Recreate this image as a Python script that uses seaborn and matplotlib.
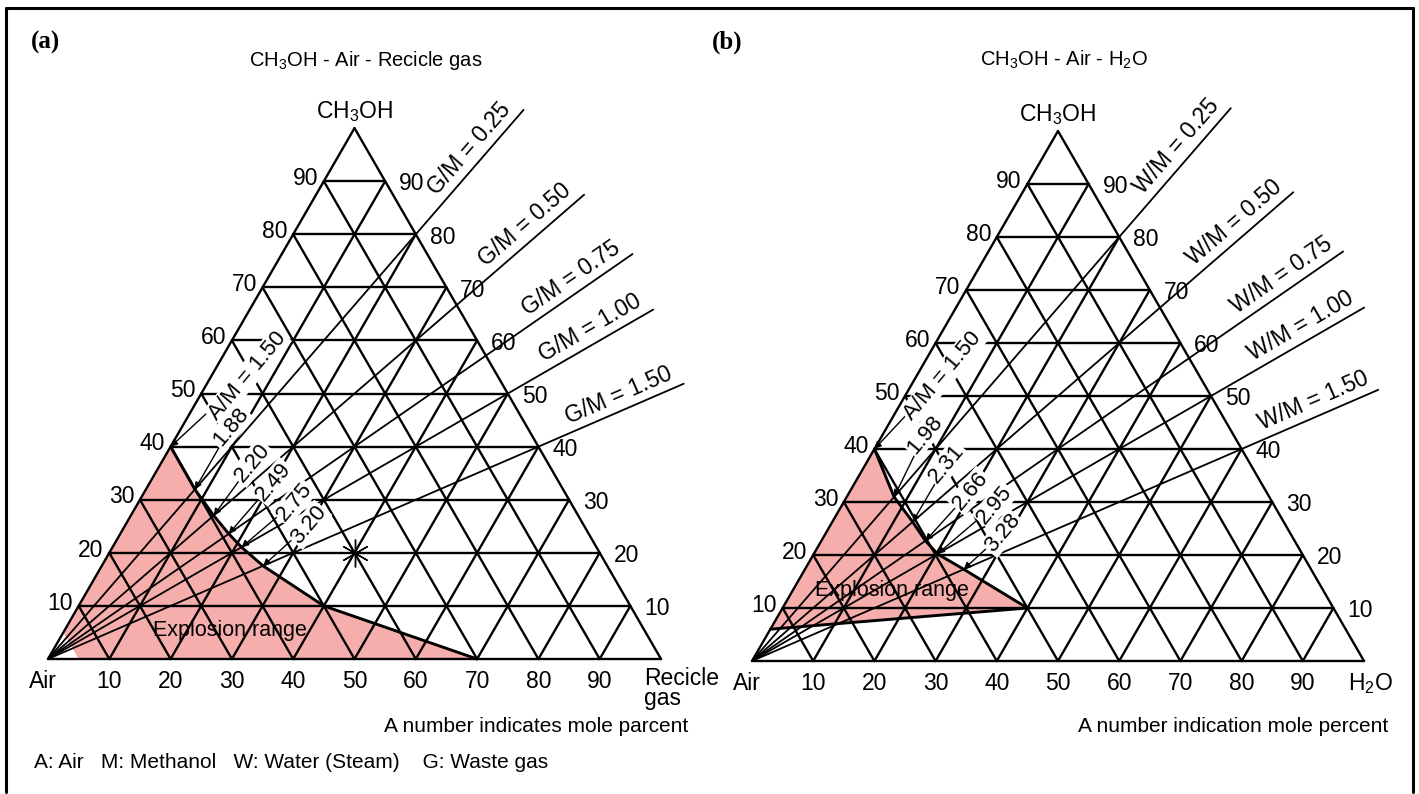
import numpy as np
import pandas as pd
import matplotlib
matplotlib.use("Agg")
import matplotlib.pyplot as plt
import seaborn as sns
from matplotlib.lines import Line2D

sns.set_theme(style="white")
plt.rcParams["font.family"] = ["Liberation Sans", "DejaVu Sans"]
plt.rcParams["text.color"] = "black"
plt.rcParams["mathtext.fontset"] = "custom"
plt.rcParams["mathtext.rm"] = "Liberation Sans"
plt.rcParams["mathtext.it"] = "Liberation Sans"

# ---- data ----
grid_pct = [10, 20, 30, 40, 50, 60, 70, 80, 90]

# G/M (recycle gas / methanol) and W/M (steam / methanol) ratio lines
ratio_levels = [0.25, 0.50, 0.75, 1.00, 1.50]
ratio_labels = ["0.25", "0.50", "0.75", "1.00", "1.50"]

# A/M on the upper explosion limit, for ratio 0 and each ratio line
am_recycle = [1.50, 1.88, 2.20, 2.49, 2.75, 3.20]
am_steam = [1.50, 1.98, 2.31, 2.66, 2.95, 3.28]

# rest of the explosion boundary, (methanol, 3rd component) mole fractions
tail_recycle_m = [0.10, 0.00]
tail_recycle_g = [0.40, 0.70]
tail_steam_m = [0.10, 0.06]
tail_steam_w = [0.40, 0.00]

# closing points of the shaded explosion range near the air corner
close_recycle_m = [0.00, 0.05]
close_recycle_g = [0.05, 0.00]
close_steam_m = [0.06]
close_steam_w = [0.00]

# marked point in (a)
star_m, star_g = 0.20, 0.40

# ---- layout ----
W, H = 1419, 794
SQ3 = np.sqrt(3) / 2
RED = "#ec5f58"
FS = 16.5


def tern(m, g):
    m = np.asarray(m, dtype=float)
    g = np.asarray(g, dtype=float)
    return g + m / 2, m * SQ3


def make_axes(fig, cx, cy, side, x0, x1, ytop, ybot):
    ax = fig.add_axes([x0 / W, 1 - ybot / H, (x1 - x0) / W, (ybot - ytop) / H])
    ax.set_xlim((x0 - cx) / side, (x1 - cx) / side)
    ax.set_ylim((cy - ybot) / side, (cy - ytop) / side)
    ax.axis("off")
    return ax


def draw_panel(ax, am_vals, tail_m, tail_g, close_m, close_g, prefix,
               right_name, ray_ends, am_pos, expl_pos):
    # upper explosion limit points on each ratio line
    r_all = np.array([0.0] + ratio_levels)
    am = np.array(am_vals)
    bm = 1 / (1 + r_all + am)
    bg = r_all * bm
    bnd_m = np.concatenate([bm, tail_m])
    bnd_g = np.concatenate([bg, tail_g])

    # shaded explosion range
    px_, py_ = tern(np.concatenate([bnd_m, close_m]), np.concatenate([bnd_g, close_g]))
    ax.fill(px_, py_, color=RED, alpha=0.5, lw=0, zorder=1)

    # triangular grid
    rows = []
    k = 0
    for p in grid_pct + [0]:
        f = p / 100
        for seg in ([(f, 0), (f, 1 - f)], [(0, f), (1 - f, f)], [(1 - f, 0), (0, 1 - f)]):
            x, y = tern([s[0] for s in seg], [s[1] for s in seg])
            rows += [{"x": x[0], "y": y[0], "seg": k}, {"x": x[1], "y": y[1], "seg": k}]
            k += 1
    grid = pd.DataFrame(rows)
    sns.lineplot(data=grid, x="x", y="y", units="seg", estimator=None, sort=False,
                 color="black", lw=1.7, legend=False, ax=ax, zorder=2)

    # ratio rays from the air corner
    rows = []
    for i, (r, d) in enumerate(zip(ratio_levels, ray_ends)):
        x, y = tern(1 / (1 + r), r / (1 + r))
        n = np.hypot(x, y)
        rows += [{"x": 0.0, "y": 0.0, "ray": i}, {"x": x / n * d, "y": y / n * d, "ray": i}]
    rays = pd.DataFrame(rows)
    sns.lineplot(data=rays, x="x", y="y", units="ray", estimator=None, sort=False,
                 color="black", lw=1.3, legend=False, ax=ax, zorder=3)
    for r, lab, d in zip(ratio_levels, ratio_labels, ray_ends):
        x, y = tern(1 / (1 + r), r / (1 + r))
        n = np.hypot(x, y)
        ang = np.arctan2(y, x)
        t = d - 0.105
        ax.annotate(f"{prefix}/M = {lab}", xy=(x / n * t, y / n * t),
                    xytext=(-np.sin(ang) * 3, np.cos(ang) * 3), textcoords="offset points",
                    rotation=np.degrees(ang), rotation_mode="anchor",
                    ha="center", va="bottom", fontsize=FS)

    # explosion boundary
    bx, by = tern(bnd_m, bnd_g)
    ax.plot(bx, by, color="black", lw=2.1, zorder=4)

    # A/M labels with arrows
    for j, (a, pos) in enumerate(zip(am_vals, am_pos)):
        txt = f"A/M = {a:.2f}" if j == 0 else f"{a:.2f}"
        tx, ty = tern(bm[j], bg[j])
        ax.annotate(txt, xy=(tx, ty), xytext=pos, textcoords="data",
                    rotation=50, ha="center", va="center", fontsize=16, zorder=6,
                    bbox=dict(boxstyle="square,pad=0.06", fc="white", ec="none"),
                    arrowprops=dict(arrowstyle="-|>", color="black", lw=1.0,
                                    mutation_scale=10, shrinkA=0, shrinkB=0))

    ax.text(expl_pos[0], expl_pos[1], "Explosion range", ha="center", va="center",
            fontsize=15.5, zorder=6)

    # axis labels
    for p in grid_pct:
        f = p / 100
        ax.annotate(str(p), xy=tern(f, 0), xytext=(-4, 2), textcoords="offset points",
                    ha="right", va="center", fontsize=FS)
        ax.annotate(str(p), xy=tern(f, 1 - f), xytext=(10, -2), textcoords="offset points",
                    ha="left", va="center", fontsize=FS)
        ax.annotate(str(p), xy=tern(0, f), xytext=(0, -16), textcoords="offset points",
                    ha="center", va="center", fontsize=FS)
    ax.annotate("Air", xy=(0, 0), xytext=(-4, -16), textcoords="offset points",
                ha="center", va="center", fontsize=FS)
    ax.annotate("CH$_3$OH", xy=tern(1, 0), xytext=(0, 12), textcoords="offset points",
                ha="center", va="center", fontsize=FS)
    if right_name == "gas":
        ax.annotate("Recicle\ngas", xy=(1, 0), xytext=(-12, -6), textcoords="offset points",
                    ha="left", va="top", fontsize=FS, linespacing=0.8)
    else:
        ax.annotate("H$_2$O", xy=(1, 0), xytext=(5, -16), textcoords="offset points",
                    ha="center", va="center", fontsize=FS)


fig = plt.figure(figsize=(W / 100, H / 100), dpi=100)

# (a) CH3OH - Air - Recycle gas
ax_a = make_axes(fig, 48, 659, 613, 10, 708, 85, 705)
draw_panel(ax_a, am_recycle, tail_recycle_m, tail_recycle_g, close_recycle_m, close_recycle_g,
           "G", "gas", [1.185, 1.157, 1.16, 1.14, 1.13],
           [(0.325, 0.462), (0.298, 0.378), (0.333, 0.320), (0.368, 0.289), (0.402, 0.256),
            (0.425, 0.219)],
           (0.297, 0.047))
sx, sy = tern(star_m, star_g)
ax_a.plot(sx, sy, marker=(6, 2, 0), ms=20, mew=1.0, color="black", zorder=5)

# (b) CH3OH - Air - H2O
ax_b = make_axes(fig, 752, 661, 612, 712, 1412, 85, 705)
draw_panel(ax_b, am_steam, tail_steam_m, tail_steam_w, close_steam_m, close_steam_w,
           "W", "h2o", [1.195, 1.17, 1.175, 1.155, 1.115],
           [(0.312, 0.466), (0.282, 0.370), (0.318, 0.322), (0.357, 0.278), (0.397, 0.255),
            (0.410, 0.209)],
           (0.229, 0.116))

# titles and notes
fig.text(46 / W, 1 - 42 / H, "(a)", family="Liberation Serif", weight="bold",
         fontsize=18, ha="center", va="center")
fig.text(727 / W, 1 - 42 / H, "(b)", family="Liberation Serif", weight="bold",
         fontsize=18, ha="center", va="center")
fig.text(366 / W, 1 - 60 / H, "CH$_3$OH - Air - Recicle gas", fontsize=14.5,
         ha="center", va="center")
fig.text(1064 / W, 1 - 60 / H, "CH$_3$OH - Air - H$_2$O", fontsize=14.5,
         ha="center", va="center")
fig.text(688 / W, 1 - 726 / H, "A number indicates mole parcent", fontsize=15,
         ha="right", va="center")
fig.text(1388 / W, 1 - 727 / H, "A number indication mole percent", fontsize=15,
         ha="right", va="center")
fig.text(34 / W, 1 - 762 / H, "A: Air   M: Methanol   W: Water (Steam)    G: Waste gas",
         fontsize=15, ha="left", va="center")

# page frame
for xs, ys in [([6, 6], [8, 792]), ([6, 1413], [8, 8]), ([1413, 1413], [8, 792])]:
    fig.add_artist(Line2D([x / W for x in xs], [1 - y / H for y in ys],
                          transform=fig.transFigure, color="black", lw=2.2))

fig.savefig("out.png", dpi=100)
